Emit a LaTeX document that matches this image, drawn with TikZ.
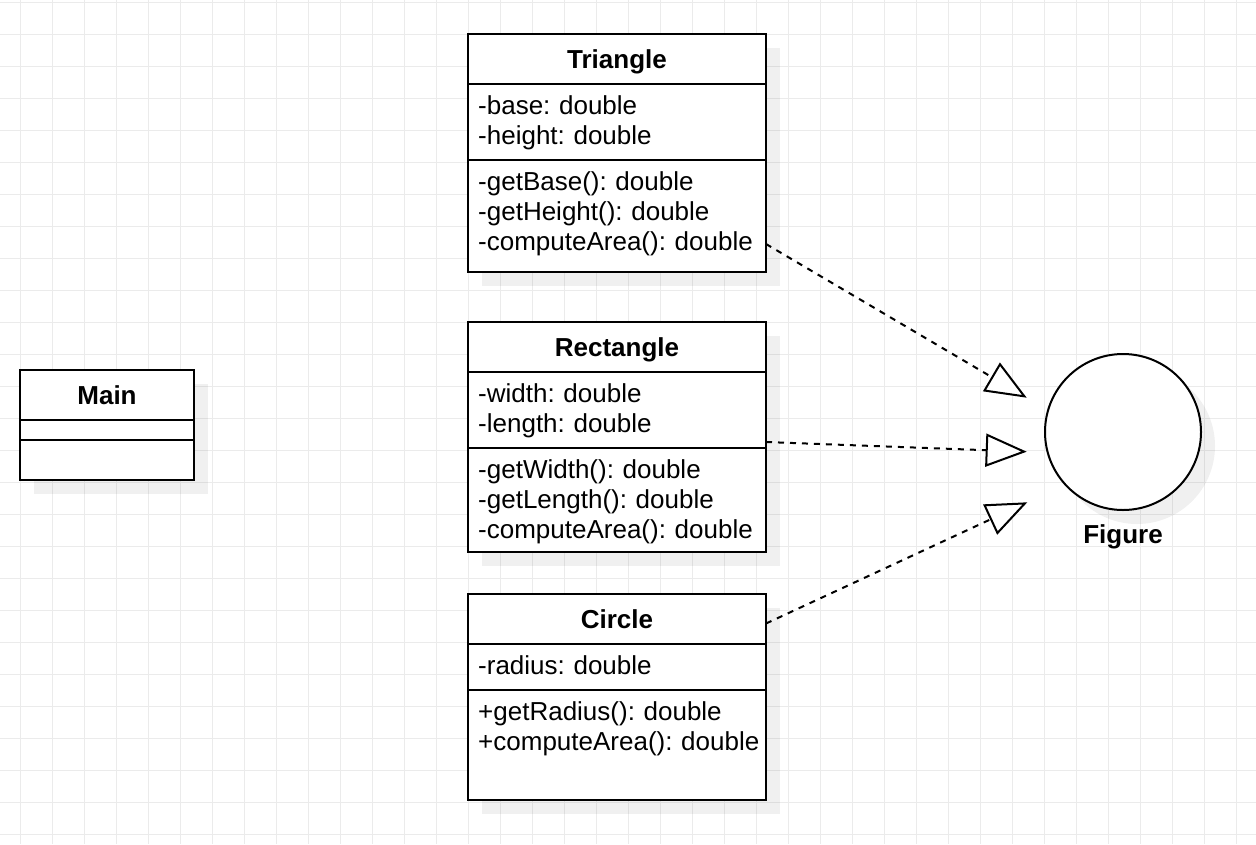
\documentclass[tikz,border=0pt]{standalone}
\usepackage{fontspec}
\setmainfont{Liberation Sans}
\usetikzlibrary{arrows.meta,positioning,shadows}
\definecolor{GridClr}{rgb}{0.92,0.92,0.92}
\definecolor{BoxClr}{rgb}{0,0,0}
\newcommand\UmlFont{\fontsize{26pt}{30pt}\selectfont\frenchspacing}

\tikzset{
  GridLine/.style={draw=GridClr,line width=1pt},
  ShadowStl/.style={drop shadow={shadow xshift=14pt,shadow yshift=-14pt,fill=black,opacity=0.06}},
  ClassName/.style={draw=BoxClr,line width=2pt,fill=white,ShadowStl,minimum width=298pt,minimum height=50pt,inner sep=0pt,outer sep=0pt,text height=34pt,text depth=16pt,font=\UmlFont\bfseries},
  ClassPart/.style={draw=BoxClr,line width=2pt,fill=white,ShadowStl,minimum width=298pt,minimum height=#1,inner sep=0pt,outer sep=0pt},
  ClassText/.style={anchor=north west,inner xsep=10pt,inner ysep=0pt,text width=300pt,align=left,text height=30pt,font=\UmlFont},
  Realize/.style={line width=2pt,dash pattern=on 6pt off 6pt,-{Triangle[length=41pt,width=33pt,fill=white]}}
}

\begin{document}
\begin{tikzpicture}[x=1pt,y=-1pt]
\fill[white] (0,0) rectangle (1256,844);
\useasboundingbox (0,0) rectangle (1256,844);
\foreach \gx in {20,52,...,1236} \draw[GridLine] (\gx,0) -- (\gx,844);
\foreach \gy in {2,34,...,834} \draw[GridLine] (0,\gy) -- (1256,\gy);

\node[ClassName,minimum width=174pt,anchor=north west] (main) at (20,370) {Main};
\node[ClassPart=20pt,minimum width=174pt,below=0pt of main] (mainA) {};
\node[ClassPart=40pt,minimum width=174pt,below=0pt of mainA] (mainM) {};

\node[ClassName,anchor=north west] (tri) at (468,34) {Triangle};
\node[ClassPart=76pt,below=0pt of tri] (triA) {};
\node[ClassPart=112pt,below=0pt of triA] (triM) {};
\node[ClassText] (triAtxt) at (triA.north west) {-base: double\\-height: double};
\node[ClassText] (triMtxt) at (triM.north west) {-getBase(): double\\-getHeight(): double\\-computeArea(): double};

\node[ClassName,anchor=north west] (rect) at (468,322) {Rectangle};
\node[ClassPart=76pt,below=0pt of rect] (rectA) {};
\node[ClassPart=104pt,below=0pt of rectA] (rectM) {};
\node[ClassText] (rectAtxt) at (rectA.north west) {-width: double\\-length: double};
\node[ClassText] (rectMtxt) at (rectM.north west) {-getWidth(): double\\-getLength(): double\\-computeArea(): double};

\node[ClassName,anchor=north west] (circ) at (468,594) {Circle};
\node[ClassPart=46pt,below=0pt of circ] (circA) {};
\node[ClassPart=110pt,below=0pt of circA] (circM) {};
\node[ClassText] (circAtxt) at (circA.north west) {-radius: double};
\node[ClassText] (circMtxt) at (circM.north west) {+getRadius(): double\\+computeArea(): double};

\node[circle,draw=BoxClr,line width=2pt,fill=white,ShadowStl,minimum size=156pt,inner sep=0pt,outer sep=0pt] (fig) at (1123,432) {};
\node[font=\UmlFont\bfseries,anchor=base,inner sep=0pt] (figName) at ([yshift=-33.5pt]fig.south) {Figure};

\coordinate (triTip) at ([shift={(-18.3,-34.3)}]fig.west);
\coordinate (rectTip) at ([shift={(-18.3,19.7)}]fig.west);
\coordinate (circTip) at ([shift={(-17.7,70.3)}]fig.west);

\draw[Realize] ([yshift=-28pt]triM.east) -- (triTip);
\draw[Realize] ([yshift=6pt]rectA.south east) -- (rectTip);
\draw[Realize] ([yshift=-4.5pt]circ.east) -- (circTip);

\end{tikzpicture}
\end{document}
